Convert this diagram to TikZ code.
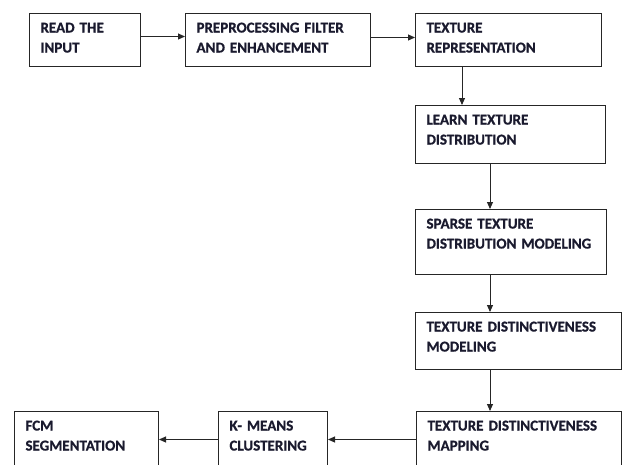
\documentclass[tikz,border=0pt]{standalone}
\usepackage{fontspec}
\setmainfont{Carlito}[BoldFeatures={FakeBold=0.8}]
\usetikzlibrary{arrows.meta}
\definecolor{ink}{HTML}{1A1A2E}
\tikzset{
  stage/.style={draw=black!85, line width=1pt, anchor=north west, align=left,
    inner xsep=11pt, inner ysep=4pt, text height=15pt, text=ink,
    font=\fontsize{15}{20}\selectfont\bfseries},
  flow/.style={-{Triangle[length=7pt,width=6pt]}, line width=0.9pt, black!85}
}
\begin{document}
\begin{tikzpicture}[x=1pt,y=-1pt]
      \useasboundingbox (0,0) rectangle (622,464);
      \clip (0,0) rectangle (622,464);
      % top row
      \node[stage, text width=89pt, text depth=30pt] (read) at (29,13) {READ THE\\INPUT};
      \node[stage, text width=163pt, text depth=30pt] (prep) at (185,13) {PREPROCESSING FILTER\\AND ENHANCEMENT};
      \node[stage, text width=164pt, text depth=30pt] (texrep) at (415,13) {TEXTURE\\REPRESENTATION};
      % right column
      \node[stage, text width=168pt, text depth=35pt] (learn) at (415,105) {LEARN TEXTURE\\DISTRIBUTION};
      \node[stage, text width=169pt, text depth=42pt] (sparse) at (415,209) {SPARSE TEXTURE\\DISTRIBUTION~MODELING};
      \node[stage, text width=184pt, text depth=34pt] (tdmodel) at (415,312) {TEXTURE~DISTINCTIVENESS\\MODELING};
      % bottom row
      \node[stage, text width=183pt, text depth=37pt] (tdmap) at (416,411) {TEXTURE~DISTINCTIVENESS\\MAPPING};
      \node[stage, text width=87pt, text depth=37pt] (kmeans) at (218,411) {K- MEANS\\CLUSTERING};
      \node[stage, text width=122pt, text depth=37pt] (fcm) at (14,411) {FCM\\SEGMENTATION};
      \begin{scope}[flow]
        \draw ([yshift=3.5pt]read.east) -- ([yshift=3.5pt]prep.west);
        \draw ([yshift=2.5pt]prep.east) -- ([yshift=2.5pt]texrep.west);
        \draw ([xshift=47pt]texrep.south west) -- ([xshift=47pt]learn.north west);
        \draw ([xshift=75pt]learn.south west) -- ([xshift=75pt]sparse.north west);
        \draw ([xshift=75pt]sparse.south west) -- ([xshift=75pt]tdmodel.north west);
        \draw ([xshift=75pt]tdmodel.south west) -- ([xshift=74pt]tdmap.north west);
        \draw ([yshift=2pt]tdmap.west) -- ([yshift=2pt]kmeans.east);
        \draw ([yshift=2pt]kmeans.west) -- ([yshift=2pt]fcm.east);
      \end{scope}
    \end{tikzpicture}
\end{document}
